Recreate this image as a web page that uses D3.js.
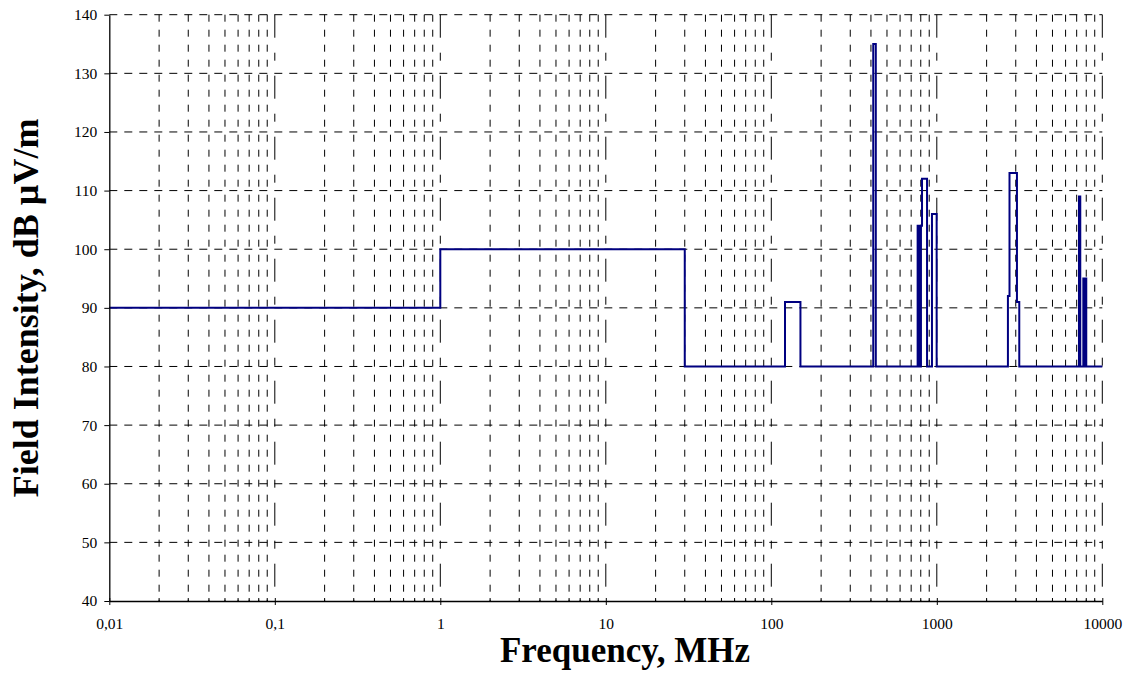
<!DOCTYPE html>
<html>
<head>
<meta charset="utf-8">
<script src="https://cdn.jsdelivr.net/npm/d3@7"></script>
<style>
  body { margin: 0; background: #fff; }
  svg { display: block; }
</style>
</head>
<body>
<svg id="chart" width="1130" height="675"></svg>
<script>
// Field-intensity limit profile: each entry starts a new level that holds
// until the next frequency (step-after).
const stepFreqMHz = [
  0.01, 1, 30, 121, 150, 413, 428,
  766, 772, 778, 784, 790, 796, 802, 814, 873, 935, 998,
  2690, 2750, 3050, 3150,
  7230, 7360, 7680, 7730, 7780, 7830, 7880, 7930, 7980, 8000,
  10000
];
const stepLevelDb = [
  90, 100, 80, 91, 80, 135, 80,
  104, 80, 104, 80, 104, 80, 104, 112, 80, 106, 80,
  92, 113, 91, 80,
  109, 80, 95, 80, 95, 80, 95, 80, 95, 80,
  80
];

const yTickValues = [40, 50, 60, 70, 80, 90, 100, 110, 120, 130, 140];
const xTickValues = [0.01, 0.1, 1, 10, 100, 1000, 10000];
const xTickLabels = ["0,01", "0,1", "1", "10", "100", "1000", "10000"];
const minorMultipliers = [2, 3, 4, 5, 6, 7, 8, 9];

const xTitle = "Frequency, MHz";
const yTitle = "Field Intensity, dB µV/m";

const svg = d3.select("#chart");
const serif = "'Liberation Serif', 'Times New Roman', serif";

const x = d3.scaleLog().domain([0.01, 10000]).range([109.3, 1102.3]);
const y = d3.scaleLinear().domain([40, 140]).range([601, 14.7]);

const [yBottom, yTop] = y.range();
const [xLeft, xRight] = x.range();

// Grid values: minor multiples within each decade and the decade lines.
const decades = xTickValues.slice(0, -1);
const minorValues = decades.flatMap(d => minorMultipliers.map(m => d * m));
const decadeLines = xTickValues.slice(1);

const grid = svg.append("g").attr("fill", "none");

grid.selectAll("line.hgrid")
  .data(yTickValues.slice(1))
  .join("line")
  .attr("class", "hgrid")
  .attr("x1", xLeft).attr("x2", xRight)
  .attr("y1", d => y(d)).attr("y2", d => y(d))
  .attr("stroke", "#000")
  .attr("stroke-width", 1)
  .attr("stroke-dasharray", "8,7");

grid.selectAll("line.vminor")
  .data(minorValues)
  .join("line")
  .attr("class", "vminor")
  .attr("x1", d => x(d)).attr("x2", d => x(d))
  .attr("y1", yTop).attr("y2", yBottom)
  .attr("stroke", "#000")
  .attr("stroke-width", 1)
  .attr("stroke-dasharray", "7,8");

grid.selectAll("line.vmajor")
  .data(decadeLines)
  .join("line")
  .attr("class", "vmajor")
  .attr("x1", d => x(d)).attr("x2", d => x(d))
  .attr("y1", yTop).attr("y2", yBottom)
  .attr("stroke", "#000")
  .attr("stroke-width", 1)
  .attr("stroke-dasharray", "23,15,8,15");

// Step profile
const profile = stepFreqMHz.map((f, i) => [f, stepLevelDb[i]]);
const line = d3.line()
  .x(d => x(d[0]))
  .y(d => y(d[1]))
  .curve(d3.curveStepAfter);

svg.append("path")
  .datum(profile)
  .attr("d", line)
  .attr("fill", "none")
  .attr("stroke", "#000080")
  .attr("stroke-width", 2)
  .attr("stroke-linejoin", "miter");

// Y axis
const yAxis = svg.append("g")
  .attr("transform", `translate(${xLeft},0)`)
  .call(d3.axisLeft(y).tickValues(yTickValues).tickSize(5).tickSizeOuter(0).tickPadding(7));
yAxis.select(".domain").attr("stroke", "#000").attr("stroke-width", 1.3);
yAxis.selectAll(".tick line").attr("stroke", "#000");
yAxis.selectAll("text")
  .attr("font-family", serif)
  .attr("font-size", 15.5)
  .attr("fill", "#000");

// X axis
const xAxis = svg.append("g")
  .attr("transform", `translate(0,${yBottom})`)
  .call(d3.axisBottom(x).tickValues(xTickValues)
    .tickFormat((d, i) => xTickLabels[i]).tickSize(4).tickSizeOuter(0));
xAxis.select(".domain").attr("stroke", "#000").attr("stroke-width", 1.3);
xAxis.selectAll(".tick line").attr("stroke", "#000").attr("y1", -3);
xAxis.selectAll("text")
  .attr("font-family", serif)
  .attr("font-size", 15.5)
  .attr("fill", "#000")
  .attr("y", 28)
  .attr("dy", 0);

xAxis.selectAll("line.minor-tick")
  .data(minorValues)
  .join("line")
  .attr("class", "minor-tick")
  .attr("x1", d => x(d)).attr("x2", d => x(d))
  .attr("y1", -3).attr("y2", 0)
  .attr("stroke", "#000");

// Axis titles
svg.append("text")
  .attr("x", 625)
  .attr("y", 662)
  .attr("text-anchor", "middle")
  .attr("font-family", serif)
  .attr("font-weight", "bold")
  .attr("font-size", 35)
  .text(xTitle);

svg.append("text")
  .attr("transform", `translate(38,${(yTop + yBottom) / 2}) rotate(-90)`)
  .attr("text-anchor", "middle")
  .attr("font-family", serif)
  .attr("font-weight", "bold")
  .attr("font-size", 36)
  .text(yTitle);
</script>
</body>
</html>
